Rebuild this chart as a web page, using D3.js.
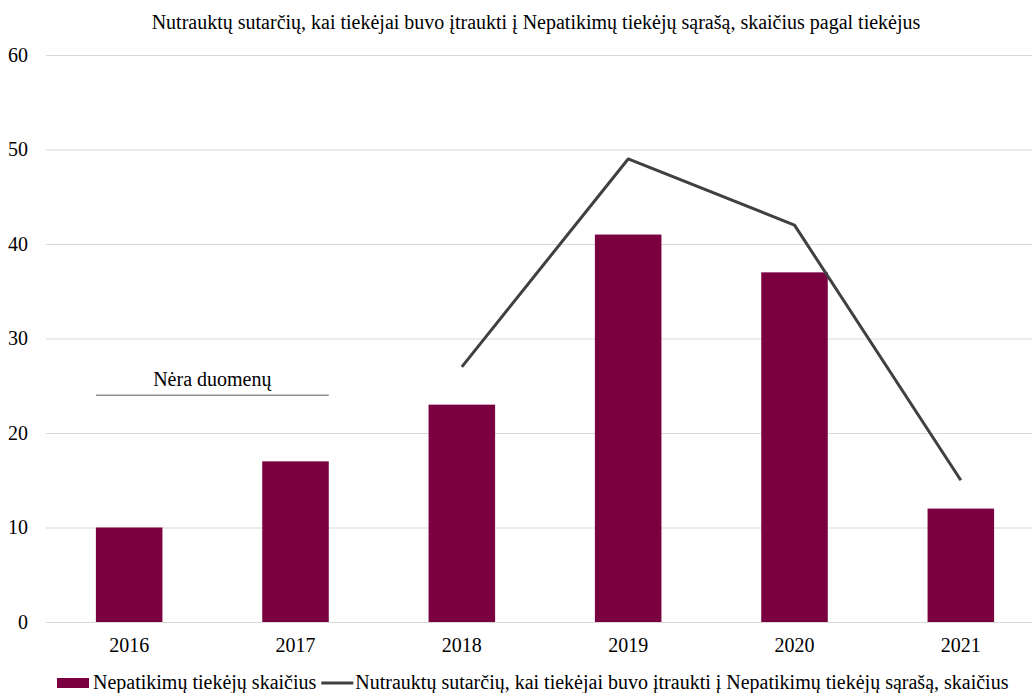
<!DOCTYPE html>
<html>
<head>
<meta charset="utf-8">
<script src="https://cdn.jsdelivr.net/npm/d3@7"></script>
<style>
  body { margin: 0; background: #fff; }
  text { font-family: "Liberation Serif", "Times New Roman", serif; }
</style>
</head>
<body>
<svg id="chart"></svg>
<script>
// Chart data
const years = ["2016", "2017", "2018", "2019", "2020", "2021"];
const supplierCounts = [10, 17, 23, 41, 37, 12];
const lineYears = ["2018", "2019", "2020", "2021"];
const contractCounts = [27, 49, 42, 15];
const yTicks = [0, 10, 20, 30, 40, 50, 60];
const noDataYears = ["2016", "2017"];
const noDataLevel = 24;

const titleText = "Nutraukt\u0173 sutar\u010Di\u0173, kai tiek\u0117jai buvo \u012Ftraukti \u012F Nepatikim\u0173 tiek\u0117j\u0173 s\u0105ra\u0161\u0105, skai\u010Dius pagal tiek\u0117jus";
const barLabel = "Nepatikim\u0173 tiek\u0117j\u0173 skai\u010Dius";
const lineLabel = "Nutraukt\u0173 sutar\u010Di\u0173, kai tiek\u0117jai buvo \u012Ftraukti \u012F Nepatikim\u0173 tiek\u0117j\u0173 s\u0105ra\u0161\u0105, skai\u010Dius";
const noDataText = "N\u0117ra duomen\u0173";

const dims = {
  width: 1032,
  height: 693,
  left: 46,
  right: 1044,
  top: 55,
  bottom: 622
};

const barColor = "#7a003f";
const lineColor = "#404040";
const gridColor = "#d9d9d9";
const fontSize = 20;

const svg = d3.select("#chart")
    .attr("width", dims.width)
    .attr("height", dims.height);

const x = d3.scaleBand()
    .domain(years)
    .range([dims.left, dims.right])
    .paddingInner(0.6)
    .paddingOuter(0.3);

const y = d3.scaleLinear()
    .domain([0, 60])
    .range([dims.bottom, dims.top]);

// gridlines + y labels
const yAxis = svg.append("g")
    .attr("transform", `translate(${dims.left},0)`)
    .call(d3.axisLeft(y).tickValues(yTicks).tickSize(-(dims.right - dims.left)).tickPadding(18));
yAxis.select(".domain").remove();
yAxis.selectAll(".tick line").attr("stroke", gridColor).attr("stroke-width", 1);
yAxis.selectAll(".tick text")
    .attr("font-size", fontSize)
    .attr("fill", "#000");

// x labels
const xAxis = svg.append("g")
    .attr("transform", `translate(0,${dims.bottom})`)
    .call(d3.axisBottom(x).tickSize(0).tickPadding(16));
xAxis.select(".domain").remove();
xAxis.selectAll(".tick text")
    .attr("font-size", fontSize)
    .attr("fill", "#000");

// bars
svg.append("g")
  .selectAll("rect")
  .data(years)
  .join("rect")
    .attr("x", d => x(d))
    .attr("y", (d, i) => y(supplierCounts[i]))
    .attr("width", x.bandwidth())
    .attr("height", (d, i) => y(0) - y(supplierCounts[i]))
    .attr("fill", barColor);

// line
const line = d3.line()
    .x(d => x(d[0]) + x.bandwidth() / 2)
    .y(d => y(d[1]));

svg.append("path")
    .datum(lineYears.map((yr, i) => [yr, contractCounts[i]]))
    .attr("fill", "none")
    .attr("stroke", lineColor)
    .attr("stroke-width", 3)
    .attr("stroke-linejoin", "round")
    .attr("d", line);

// "no data" annotation
const ndX1 = x(noDataYears[0]);
const ndX2 = x(noDataYears[1]) + x.bandwidth();
svg.append("line")
    .attr("x1", ndX1)
    .attr("x2", ndX2)
    .attr("y1", y(noDataLevel))
    .attr("y2", y(noDataLevel))
    .attr("stroke", "#595959")
    .attr("stroke-width", 1);
svg.append("text")
    .attr("x", (ndX1 + ndX2) / 2)
    .attr("y", y(noDataLevel) - 9)
    .attr("text-anchor", "middle")
    .attr("font-size", fontSize)
    .text(noDataText);

// title
svg.append("text")
    .attr("x", 536)
    .attr("y", 29)
    .attr("text-anchor", "middle")
    .attr("font-size", fontSize)
    .text(titleText);

// legend
const legend = svg.append("g").attr("transform", "translate(0,683)");
legend.append("rect")
    .attr("x", 57).attr("y", -5)
    .attr("width", 32).attr("height", 10)
    .attr("fill", barColor);
const t1 = legend.append("text")
    .attr("x", 93).attr("y", 6)
    .attr("font-size", fontSize)
    .text(barLabel);
const t1End = 93 + t1.node().getComputedTextLength();
legend.append("line")
    .attr("x1", t1End + 5).attr("x2", t1End + 37)
    .attr("y1", 0).attr("y2", 0)
    .attr("stroke", lineColor)
    .attr("stroke-width", 3);
legend.append("text")
    .attr("x", t1End + 39).attr("y", 6)
    .attr("font-size", fontSize)
    .text(lineLabel);
</script>
</body>
</html>
